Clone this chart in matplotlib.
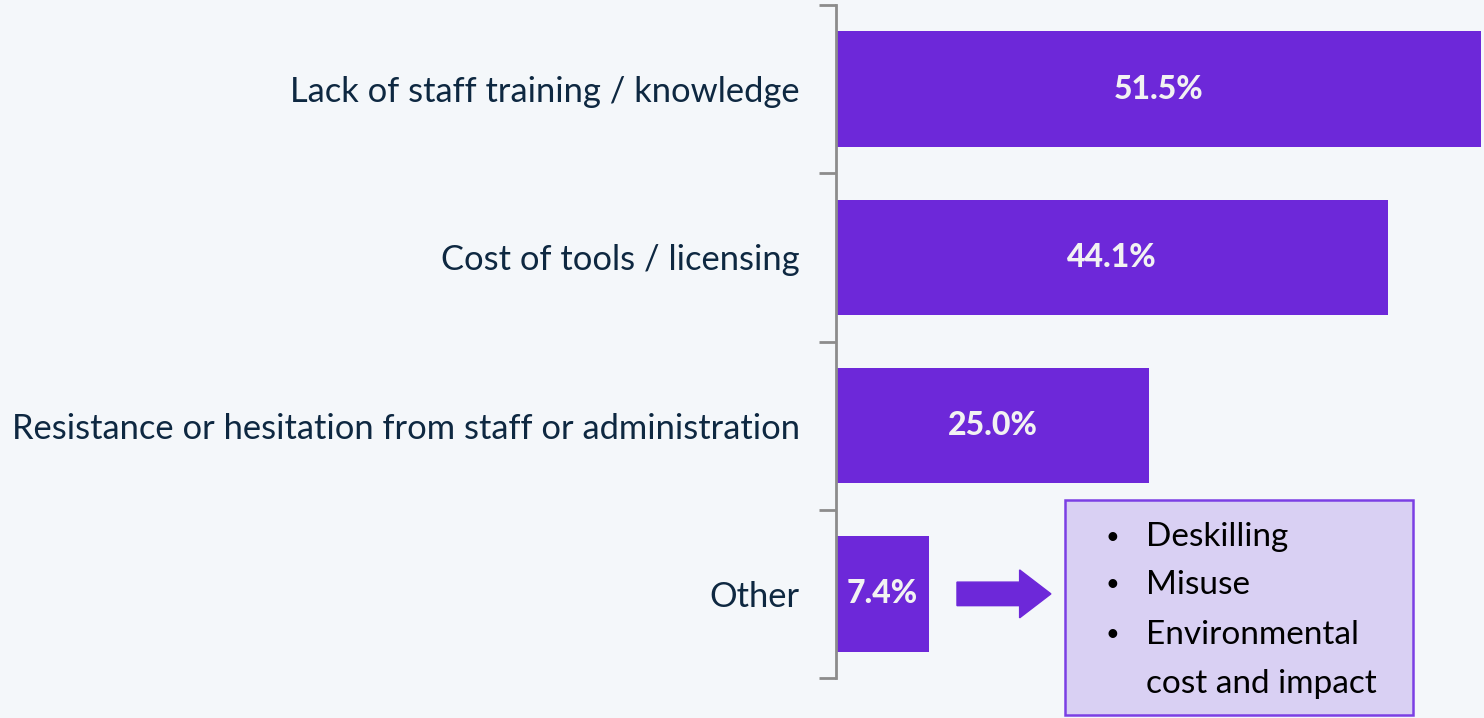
import matplotlib
matplotlib.use("Agg")
import matplotlib.pyplot as plt
from matplotlib.patches import FancyArrow, Rectangle

# data
categories = [
    "Lack of staff training / knowledge",
    "Cost of tools / licensing",
    "Resistance or hesitation from staff or administration",
    "Other",
]
values = [51.5, 44.1, 25.0, 7.4]
other_items = ["Deskilling", "Misuse", "Environmental", "cost and impact"]
other_bullets = [True, True, True, False]

BG = "#F4F7FA"
BAR = "#6D28D9"
TEXT = "#0E2841"

plt.rcParams["font.family"] = ["Lato", "DejaVu Sans"]

fig = plt.figure(figsize=(14.84, 7.18), dpi=100, facecolor=BG)
ax = fig.add_axes([836 / 1484, 40 / 718, 645 / 1484, 673 / 718], facecolor=BG)

y = list(range(len(categories)))
ax.barh(y, values, height=0.685, color=BAR, zorder=2)
for yi, v in zip(y, values):
    ax.text(v / 2, yi, f"{v:.1f}%", ha="center", va="center", color="#F2F2F2",
            fontsize=23, fontweight="black", zorder=3)

ax.set_xlim(0, max(values))
ax.set_ylim(len(categories) - 0.5, -0.5)

# axis line with boundary ticks
for s in ["top", "right", "bottom"]:
    ax.spines[s].set_visible(False)
ax.spines["left"].set_color("#8C8C8C")
ax.spines["left"].set_linewidth(2)
ax.set_xticks([])
ax.set_yticks([i - 0.5 for i in range(len(categories) + 1)])
ax.set_yticklabels([])
ax.set_yticks(y, minor=True)
ax.set_yticklabels(categories, minor=True, fontsize=24.8, color=TEXT)
ax.tick_params(axis="y", which="major", length=12, width=2, color="#8C8C8C")
ax.tick_params(axis="y", which="minor", length=0, pad=26)

# arrow pointing to the "Other" breakdown box
ax.add_patch(FancyArrow(9.66, 3, 7.5, 0, width=0.14, head_width=0.285,
                        head_length=2.5, length_includes_head=True,
                        color=BAR, clip_on=False, zorder=3))

box = Rectangle((18.28, 2.442), 27.8, 1.28, facecolor="#D9D0F3",
                edgecolor="#7B3FE4", linewidth=1.8, clip_on=False, zorder=3)
ax.add_patch(box)
line_y = [2.662, 2.947, 3.244, 3.535]
for ly, item, bullet in zip(line_y, other_items, other_bullets):
    if bullet:
        ax.text(22.1, ly, "•", ha="center", va="center", fontsize=17,
                color="black", clip_on=False, zorder=4)
    ax.text(24.75, ly, item, ha="left", va="center", fontsize=24,
            color="black", clip_on=False, zorder=4)

fig.savefig("out.png", dpi=100, facecolor=BG)
